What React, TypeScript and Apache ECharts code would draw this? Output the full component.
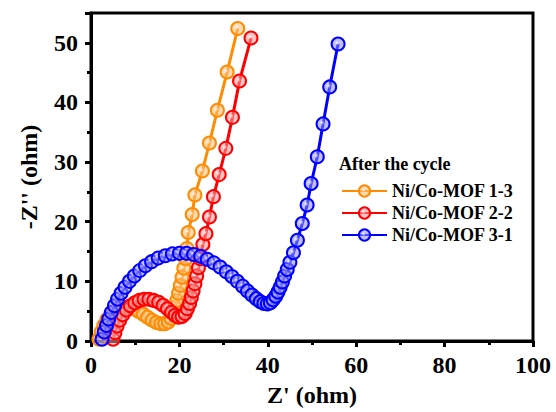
import React, { useEffect, useRef } from "react";
import * as echarts from "echarts";

const FONT = "Liberation Serif, DejaVu Serif";

const seriesNames = ["Ni/Co-MOF 1-3", "Ni/Co-MOF 2-2", "Ni/Co-MOF 3-1"];
const lineColors = ["#FF8C00", "#FF0000", "#0000FF"];
const fillColors = ["rgba(255,190,120,0.55)", "rgba(255,150,150,0.55)", "rgba(140,140,255,0.55)"];

const xTicks = [0, 20, 40, 60, 80, 100];
const yTicks = [0, 10, 20, 30, 40, 50];

const mof13: [number, number][] = [
  [1.8, 0.3], [2.3, 1.5], [2.9, 2.6], [3.6, 3.6], [4.4, 4.4], [5.3, 5.0], [6.3, 5.4],
  [7.4, 5.6], [8.5, 5.6], [9.6, 5.4], [10.7, 5.0], [11.8, 4.5], [12.8, 4.0], [13.8, 3.5],
  [14.8, 3.1], [15.8, 2.9], [16.7, 2.9], [17.5, 3.2], [18.1, 3.8], [18.6, 4.7], [19.0, 5.7],
  [19.4, 6.8], [19.8, 8.0], [20.2, 9.3], [20.6, 10.7], [21.0, 12.2], [21.4, 13.8],
  [21.7, 15.5], [22.0, 18.2], [22.9, 21.2], [23.5, 24.5], [25.2, 28.5], [26.8, 33.2],
  [28.6, 38.7], [30.8, 45.1], [33.2, 52.4],
];

const mof22: [number, number][] = [
  [5.0, 0.3], [5.4, 1.4], [5.9, 2.5], [6.5, 3.5], [7.2, 4.4], [8.0, 5.2], [8.9, 5.9],
  [9.9, 6.4], [10.9, 6.8], [12.0, 7.0], [13.1, 7.0], [14.2, 6.8], [15.3, 6.5], [16.3, 6.0],
  [17.3, 5.4], [18.2, 4.8], [19.0, 4.3], [19.8, 4.0], [20.6, 4.1], [21.3, 4.6], [21.8, 5.4],
  [22.3, 6.3], [22.7, 7.3], [23.1, 8.4], [23.5, 9.6], [23.9, 10.9], [24.3, 12.3],
  [24.7, 13.8], [25.3, 16.2], [26.0, 18.0], [26.8, 20.8], [27.7, 24.2], [29.0, 27.9],
  [30.5, 32.3], [32.0, 37.5], [33.6, 43.6], [36.2, 50.8],
];

const mof31: [number, number][] = [
  [2.5, 0.3], [3.0, 1.5], [3.5, 2.6], [4.0, 3.7], [4.6, 4.8], [5.3, 5.9], [6.0, 7.0],
  [6.8, 8.0], [7.7, 9.0], [8.7, 10.0], [9.8, 10.9], [11.0, 11.8], [12.3, 12.6],
  [13.7, 13.3], [15.2, 13.9], [16.8, 14.3], [18.4, 14.6], [20.0, 14.7], [21.6, 14.7],
  [23.2, 14.5], [24.8, 14.2], [26.3, 13.7], [27.8, 13.1], [29.2, 12.4], [30.6, 11.6],
  [31.9, 10.8], [33.1, 10.0], [34.3, 9.2], [35.4, 8.4], [36.4, 7.7], [37.4, 7.1],
  [38.3, 6.6], [39.1, 6.3], [39.9, 6.2], [40.6, 6.4], [41.2, 6.9], [41.8, 7.5], [42.3, 8.2],
  [42.8, 9.0], [43.3, 9.9], [43.8, 10.9], [44.4, 12.0], [45.0, 13.2], [45.8, 14.8],
  [46.7, 16.9], [47.8, 19.7], [48.9, 22.8], [49.8, 26.4], [51.2, 30.9], [52.5, 36.4],
  [54.0, 42.6], [55.9, 49.8],
];

const seriesData = [mof13, mof22, mof31];

export default function App() {
  const ref = useRef<HTMLDivElement>(null);
  useEffect(() => {
    if (!ref.current) return;
    const chart = echarts.init(ref.current, null, { renderer: "svg" });
    const axisCommon = {
      axisLine: { show: true, lineStyle: { color: "#000", width: 3 } },
      axisTick: { show: true, inside: false, length: 6, lineStyle: { color: "#000", width: 3 } },
      minorTick: { show: true, splitNumber: 2, length: 4, lineStyle: { color: "#000", width: 3 } },
      splitLine: { show: false },
      minorSplitLine: { show: false },
      nameLocation: "middle" as const,
      nameTextStyle: { fontFamily: FONT, fontWeight: "bold" as const, fontSize: 24, color: "#000" },
    };
    chart.setOption({
      animation: false,
      backgroundColor: "#fff",
      textStyle: { fontFamily: FONT },
      grid: {
        left: 91, right: 23, top: 13, bottom: 71,
        show: true, borderColor: "#000", borderWidth: 3, backgroundColor: "transparent",
      },
      xAxis: {
        ...axisCommon,
        type: "value",
        min: xTicks[0],
        max: xTicks[xTicks.length - 1],
        interval: xTicks[1] - xTicks[0],
        name: "Z' (ohm)",
        nameGap: 42,
        axisLabel: { margin: 12, fontFamily: FONT, fontWeight: "bold", fontSize: 24, color: "#000" },
      },
      yAxis: {
        ...axisCommon,
        type: "value",
        min: yTicks[0],
        max: 55,
        interval: yTicks[1] - yTicks[0],
        name: "-Z'' (ohm)",
        nameGap: 50,
        axisLabel: {
          margin: 13, fontFamily: FONT, fontWeight: "bold", fontSize: 24, color: "#000",
          formatter: (v: number) => (yTicks.includes(v) ? String(v) : ""),
        },
      },
      legend: {
        orient: "vertical",
        left: 336,
        top: 177,
        itemWidth: 45,
        itemHeight: 14,
        itemGap: 4,
        data: seriesNames,
        textStyle: { fontFamily: FONT, fontWeight: "bold", fontSize: 18, color: "#000", lineHeight: 18 },
      },
      graphic: [
        {
          type: "text",
          left: 339,
          top: 155,
          style: { text: "After the cycle", fontFamily: FONT, fontWeight: "bold", fontSize: 18, fill: "#000" },
        },
      ],
      series: seriesData.map((d, i) => ({
        type: "line",
        name: seriesNames[i],
        data: d,
        symbol: "circle",
        symbolSize: 13,
        showAllSymbol: true,
        clip: true,
        lineStyle: { color: lineColors[i], width: 3 },
        itemStyle: {
          color: {
            type: "radial", x: 0.4, y: 0.4, r: 0.6,
            colorStops: [
              { offset: 0, color: "rgba(255,255,255,0.95)" },
              { offset: 0.35, color: fillColors[i] },
              { offset: 1, color: fillColors[i] },
            ],
          },
          borderColor: lineColors[i],
          borderWidth: 2,
        },
        emphasis: { disabled: true },
        z: 2 + i,
      })),
    });
    return () => chart.dispose();
  }, []);
  return <div ref={ref} style={{ position: "fixed", left: 0, top: 0, width: 556, height: 412 }} />;
}
